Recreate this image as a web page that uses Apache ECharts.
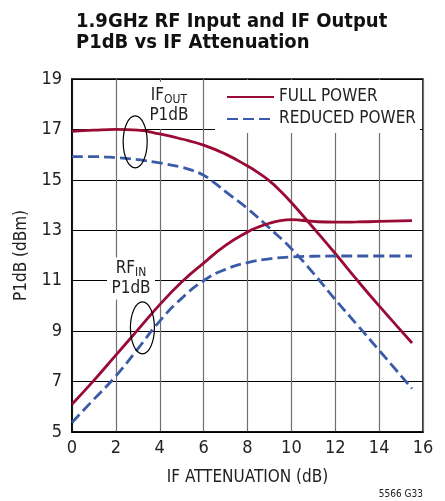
<!DOCTYPE html>
<html>
<head>
<meta charset="utf-8">
<script src="https://cdn.jsdelivr.net/npm/echarts@6/dist/echarts.min.js"></script>
<style>
  html, body { margin: 0; padding: 0; background: #fff; }
  #chart { width: 445px; height: 501px; }
</style>
</head>
<body>
<div id="chart"></div>
<script>
// IF output P1dB (dBm) against IF attenuation (dB)
const fullIfOutX    = [0, 1, 2, 3, 4, 5, 6, 7, 8, 8.5, 9, 9.5, 10, 11, 12, 13, 14, 15.5];
const fullIfOutY    = [16.92, 16.97, 17.0, 16.97, 16.82, 16.62, 16.38, 16.02, 15.55, 15.28, 14.96, 14.56, 14.1, 13.1, 12.08, 11.02, 10.0, 8.53];
const reducedIfOutX = [0, 1, 2, 3, 4, 5, 5.5, 6, 6.5, 7, 8, 9, 10, 11, 12, 13, 14, 15.5];
const reducedIfOutY = [15.92, 15.92, 15.88, 15.8, 15.67, 15.5, 15.37, 15.18, 14.88, 14.53, 13.86, 13.09, 12.27, 11.3, 10.25, 9.25, 8.24, 6.72];

// RF input P1dB (dBm) against IF attenuation (dB)
const fullRfInX    = [0, 1, 2, 3, 4, 5, 6, 7, 8, 8.5, 9, 9.5, 10, 11, 12, 13, 14, 15.5];
const fullRfInY    = [6.1, 7.05, 8.05, 9.05, 10.05, 10.95, 11.7, 12.4, 12.93, 13.13, 13.28, 13.38, 13.42, 13.35, 13.32, 13.33, 13.35, 13.38];
const reducedRfInX = [0, 1, 2, 3, 4, 5, 6, 7, 8, 9, 10, 11, 12, 13, 14, 15.5];
const reducedRfInY = [5.38, 6.3, 7.22, 8.3, 9.4, 10.3, 11.0, 11.45, 11.72, 11.87, 11.94, 11.97, 11.98, 11.98, 11.98, 11.98];

// Axis ticks
const xTicks = [0, 2, 4, 6, 8, 10, 12, 14, 16];
const yTicks = [5, 7, 9, 11, 13, 15, 17, 19];

const FONT = '"Liberation Sans Narrow", "DejaVu Sans Condensed", "Roboto", sans-serif';
const RED = '#990a34';
const BLUE = '#3a5ca8';

function pairs(xs, ys) {
  return xs.map((x, i) => [x, ys[i]]);
}

function lineSeries(name, xs, ys, color, dashed) {
  return {
    name: name,
    type: 'line',
    data: pairs(xs, ys),
    smooth: 0.5,
    symbol: 'none',
    z: 3,
    lineStyle: {
      color: color,
      width: 2.8,
      type: dashed ? [11, 5] : 'solid',
      cap: 'butt'
    },
    itemStyle: { color: color }
  };
}

const chart = echarts.init(document.getElementById('chart'), null, { renderer: 'canvas' });

const option = {
  backgroundColor: '#fff',
  animation: false,
  title: {
    text: '1.9GHz RF Input and IF Output\nP1dB vs IF Attenuation',
    left: 71,
    top: 6,
    textStyle: {
      fontFamily: FONT,
      fontWeight: 'bold',
      fontSize: 20,
      lineHeight: 21,
      color: '#111'
    }
  },
  legend: {
    data: ['FULL POWER', 'REDUCED POWER'],
    orient: 'vertical',
    left: 215,
    top: 80,
    padding: [8, 4, 5, 11],
    itemGap: 4,
    itemWidth: 47,
    itemHeight: 18,
    itemTextGap: 5,
    backgroundColor: '#fff',
    z: 5,
    itemStyle: { opacity: 0 },
    textStyle: {
      fontFamily: FONT,
      fontSize: 17,
      lineHeight: 18,
      color: '#222'
    }
  },
  grid: {
    left: 72,
    top: 79,
    width: 351,
    height: 353,
    show: true,
    borderColor: '#000',
    borderWidth: 1.6,
    containLabel: false
  },
  xAxis: {
    type: 'value',
    min: 0,
    max: 16,
    interval: 2,
    name: 'IF ATTENUATION (dB)',
    nameLocation: 'middle',
    nameGap: 37,
    nameTextStyle: { fontFamily: FONT, fontSize: 17, color: '#222' },
    axisLine: { show: true, lineStyle: { color: '#000', width: 1.6 } },
    axisTick: { show: false },
    axisLabel: {
      fontFamily: FONT, fontSize: 18, color: '#222', margin: 7,
      customValues: xTicks
    },
    splitLine: { show: true, lineStyle: { color: '#707070', width: 1.2 } }
  },
  yAxis: {
    type: 'value',
    min: 5,
    max: 19,
    name: 'P1dB (dBm)',
    nameLocation: 'middle',
    nameGap: 39,
    nameTextStyle: { fontFamily: FONT, fontSize: 17, color: '#222' },
    axisLine: { show: true, lineStyle: { color: '#000', width: 1.6 } },
    axisTick: { show: false, customValues: yTicks },
    axisLabel: {
      fontFamily: FONT, fontSize: 18, color: '#222', margin: 10,
      customValues: yTicks
    },
    splitLine: { show: true, lineStyle: { color: '#000', width: 1.2 } }
  },
  series: [
    lineSeries('FULL POWER', fullIfOutX, fullIfOutY, RED, false),
    lineSeries('REDUCED POWER', reducedIfOutX, reducedIfOutY, BLUE, true),
    lineSeries('FULL POWER', fullRfInX, fullRfInY, RED, false),
    lineSeries('REDUCED POWER', reducedRfInX, reducedRfInY, BLUE, true)
  ]
};

chart.setOption(option);

// Curve-group call-outs: a white-backed label plus an ellipse around the curve pair
function callout(labelAt, ellipseAt, rich, boxW, boxH) {
  const lp = chart.convertToPixel({ gridIndex: 0 }, labelAt);
  const ep = chart.convertToPixel({ gridIndex: 0 }, ellipseAt);
  return [
    {
      type: 'rect',
      z: 4,
      shape: { x: lp[0] - boxW / 2, y: lp[1] - boxH / 2, width: boxW, height: boxH },
      style: { fill: '#fff' }
    },
    {
      type: 'text',
      z: 5,
      x: lp[0],
      y: lp[1],
      style: {
        text: rich,
        align: 'center',
        verticalAlign: 'middle',
        fill: '#222',
        font: '17px ' + FONT,
        lineHeight: 20,
        rich: {
          a: { fontFamily: FONT, fontSize: 17, lineHeight: 20, fill: '#222' },
          s: { fontFamily: FONT, fontSize: 12, lineHeight: 20, fill: '#222', verticalAlign: 'bottom', padding: [7, 0, 0, 0] }
        }
      }
    },
    {
      type: 'ellipse',
      z: 6,
      shape: { cx: ep[0], cy: ep[1], rx: 12, ry: 26 },
      style: { fill: 'none', stroke: '#000', lineWidth: 1.2 }
    }
  ];
}

const graphics = []
  .concat(callout([4.42, 17.95], [2.88, 16.51], '{a|IF}{s|OUT}\n{a|P1dB}', 52, 47))
  .concat(callout([2.69, 11.09], [3.21, 9.13], '{a|RF}{s|IN}\n{a|P1dB}', 48, 42));

graphics.push({
  type: 'text',
  z: 5,
  x: 423,
  y: 494,
  style: {
    text: '5566 G33',
    align: 'right',
    verticalAlign: 'middle',
    font: '10px ' + FONT,
    fill: '#222'
  }
});

chart.setOption({ graphic: graphics });
</script>
</body>
</html>
